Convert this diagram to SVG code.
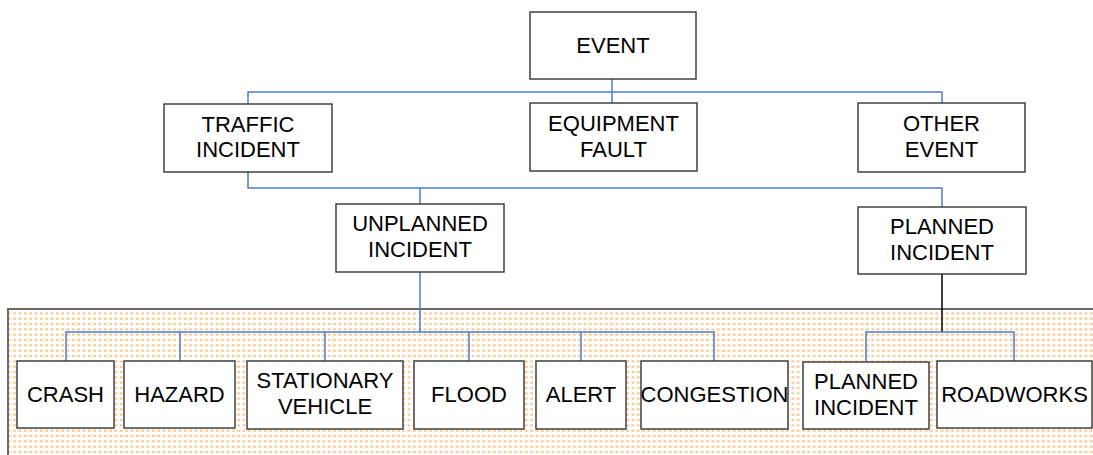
<svg xmlns="http://www.w3.org/2000/svg" width="1093" height="455" viewBox="0 0 1093 455">
  <defs>
    <pattern id="dots" patternUnits="userSpaceOnUse" x="0" y="0" width="5.33" height="5.33">
      <rect x="2.5" y="3.2" width="3" height="3" fill="#FFC68E"/>
    </pattern>
  </defs>
  <style>
    .box { fill: #ffffff; stroke: #404040; stroke-width: 1.5; }
    .lbl { font-family: "Liberation Sans", Arial, sans-serif; font-size: 22px; fill: #000000; text-anchor: middle; }
    .link { fill: none; stroke: #4A7EC8; stroke-width: 1.5; }
    .link-dark { fill: none; stroke: #000000; stroke-width: 1.5; }
  </style>
  <rect width="1093" height="455" fill="#ffffff"/>

  <!-- shaded band holding the leaf categories -->
  <g id="leaf-band">
    <rect x="8" y="309" width="1100" height="160" fill="url(#dots)"/>
    <path d="M8,456 V309 H1093" fill="none" stroke="#6a6a6a" stroke-width="2"/>
  </g>

  <g id="connectors">
    <path class="link" d="M612,79 V103 M248,104 V92 H942 V103"/>
    <path class="link" d="M248,172 V188 H942 V207 M420,188 V204"/>
    <path class="link" d="M420,272 V332 M66,361 V332 H714 V361 M180,332 V361 M325,332 V361 M469,332 V361 M581,332 V361"/>
    <path class="link-dark" d="M942,274 V332"/>
    <path class="link" d="M866,361 V332 H1014 V361"/>
  </g>

  <g id="event">
    <rect class="box" x="530" y="12" width="166" height="67"/>
    <text class="lbl" x="613" y="53">EVENT</text>
  </g>
  <g id="traffic-incident">
    <rect class="box" x="164" y="104" width="168" height="68"/>
    <text class="lbl" x="248" y="131.5">TRAFFIC</text>
    <text class="lbl" x="248" y="157">INCIDENT</text>
  </g>
  <g id="equipment-fault">
    <rect class="box" x="530" y="103" width="167" height="68"/>
    <text class="lbl" x="613.5" y="131">EQUIPMENT</text>
    <text class="lbl" x="613.5" y="157">FAULT</text>
  </g>
  <g id="other-event">
    <rect class="box" x="858" y="103" width="167" height="69"/>
    <text class="lbl" x="941.5" y="131">OTHER</text>
    <text class="lbl" x="941.5" y="157">EVENT</text>
  </g>
  <g id="unplanned-incident">
    <rect class="box" x="336" y="204" width="168" height="68"/>
    <text class="lbl" x="420" y="231">UNPLANNED</text>
    <text class="lbl" x="420" y="257">INCIDENT</text>
  </g>
  <g id="planned-incident">
    <rect class="box" x="858" y="207" width="168" height="67"/>
    <text class="lbl" x="942" y="234">PLANNED</text>
    <text class="lbl" x="942" y="260">INCIDENT</text>
  </g>

  <g id="crash">
    <rect class="box" x="17" y="361" width="97" height="67"/>
    <text class="lbl" x="65.5" y="402">CRASH</text>
  </g>
  <g id="hazard">
    <rect class="box" x="124" y="361" width="111" height="67"/>
    <text class="lbl" x="179.5" y="402">HAZARD</text>
  </g>
  <g id="stationary-vehicle">
    <rect class="box" x="247" y="361" width="156" height="68"/>
    <text class="lbl" x="325" y="388">STATIONARY</text>
    <text class="lbl" x="325" y="413.5">VEHICLE</text>
  </g>
  <g id="flood">
    <rect class="box" x="414" y="361" width="110" height="68"/>
    <text class="lbl" x="469" y="402">FLOOD</text>
  </g>
  <g id="alert">
    <rect class="box" x="536" y="361" width="90" height="68"/>
    <text class="lbl" x="581" y="402">ALERT</text>
  </g>
  <g id="congestion">
    <rect class="box" x="641" y="361" width="147" height="68"/>
    <text class="lbl" x="714.5" y="402">CONGESTION</text>
  </g>
  <g id="planned-incident-leaf">
    <rect class="box" x="803" y="362" width="126" height="67"/>
    <text class="lbl" x="866" y="389">PLANNED</text>
    <text class="lbl" x="866" y="414.5">INCIDENT</text>
  </g>
  <g id="roadworks">
    <rect class="box" x="937" y="361" width="155" height="67"/>
    <text class="lbl" x="1014.5" y="402">ROADWORKS</text>
  </g>
</svg>
